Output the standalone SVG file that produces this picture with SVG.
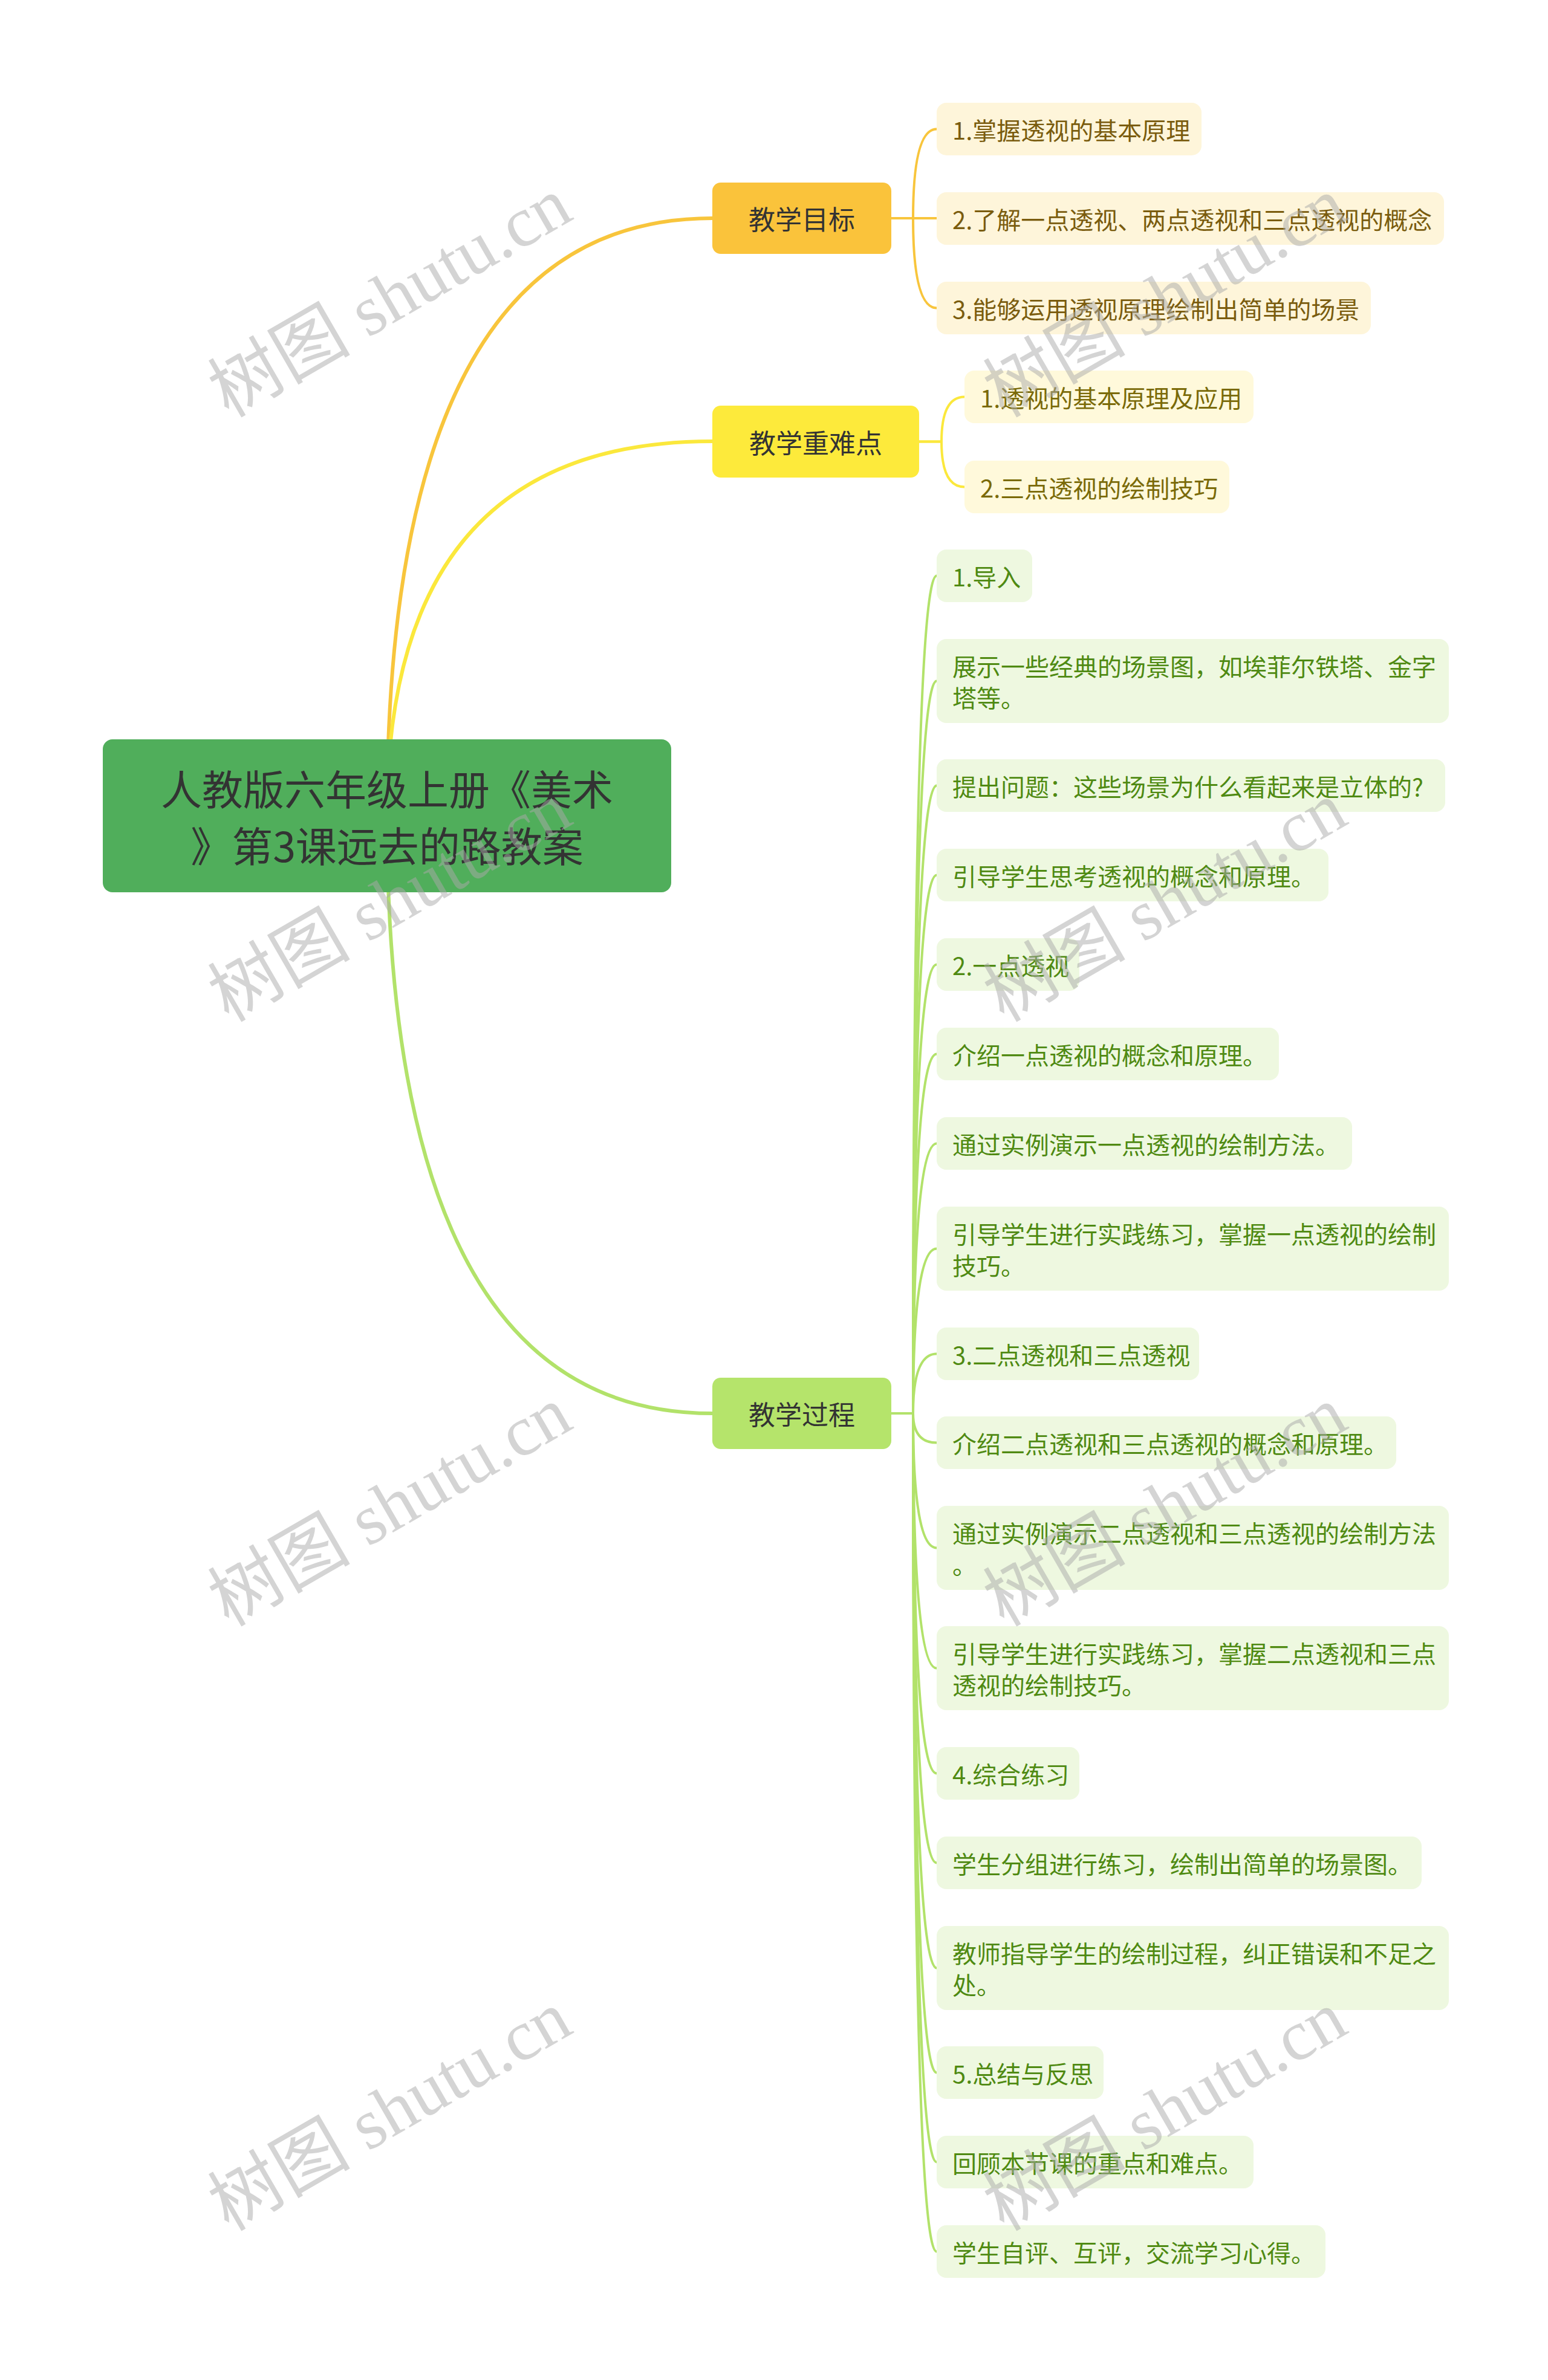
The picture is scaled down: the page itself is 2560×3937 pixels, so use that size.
<svg xmlns="http://www.w3.org/2000/svg" width="2560" height="3937" viewBox="0 0 2560 3937">
<style>
text{font-family:"Noto Sans CJK SC","Liberation Sans",sans-serif;dominant-baseline:central}
.root-t{font-size:68px;fill:#333333}
.main-t{font-size:44px;fill:#333333}
.leaf-t{font-size:40px}
.ly{fill:#FEF5DA}
.lz{fill:#FFF9DB}
.lg{fill:#EEF8E0}
.ty{fill:#7A5C0E}
.tz{fill:#7A6A08}
.tg{fill:#4F8A12}
.c1{fill:none;stroke:#F8C53C;stroke-linecap:round}
.c2{fill:none;stroke:#FBE83C;stroke-linecap:round}
.c3{fill:none;stroke:#B2E26A;stroke-linecap:round}
.wm{font-family:"Liberation Serif","Noto Sans CJK SC",serif;font-size:118px;fill:#AAAAAA;opacity:0.5;dominant-baseline:alphabetic}
</style>
<rect width="2560" height="3937" fill="#FFFFFF"/>
<g id="connectors">
  <path class="c1" stroke-width="6" d="M640 1349 Q640 361 1178 361"/>
  <path class="c2" stroke-width="6" d="M640 1349 Q640 730 1178 730"/>
  <path class="c3" stroke-width="6" d="M640 1349 Q640 2338 1178 2338"/>
  <g stroke-width="4">
    <path class="c1" d="M1474 361 L1510 361 Q1510 213.5 1549 213.5"/>
    <path class="c1" d="M1474 361 L1549 361"/>
    <path class="c1" d="M1474 361 L1510 361 Q1510 509.5 1549 509.5"/>
    <path class="c2" d="M1520 730.5 L1557 730.5 Q1557 656.5 1595 656.5"/>
    <path class="c2" d="M1520 730.5 L1557 730.5 Q1557 805.5 1595 805.5"/>
    <path class="c3" d="M1474 2338 L1510 2338 Q1510 952.5 1549 952.5"/>
    <path class="c3" d="M1474 2338 L1510 2338 Q1510 1126.5 1549 1126.5"/>
    <path class="c3" d="M1474 2338 L1510 2338 Q1510 1299.5 1549 1299.5"/>
    <path class="c3" d="M1474 2338 L1510 2338 Q1510 1447.5 1549 1447.5"/>
    <path class="c3" d="M1474 2338 L1510 2338 Q1510 1595.5 1549 1595.5"/>
    <path class="c3" d="M1474 2338 L1510 2338 Q1510 1743.5 1549 1743.5"/>
    <path class="c3" d="M1474 2338 L1510 2338 Q1510 1891.5 1549 1891.5"/>
    <path class="c3" d="M1474 2338 L1510 2338 Q1510 2065.5 1549 2065.5"/>
    <path class="c3" d="M1474 2338 L1510 2338 Q1510 2239.5 1549 2239.5"/>
    <path class="c3" d="M1474 2338 L1510 2338 Q1510 2386.5 1549 2386.5"/>
    <path class="c3" d="M1474 2338 L1510 2338 Q1510 2560.5 1549 2560.5"/>
    <path class="c3" d="M1474 2338 L1510 2338 Q1510 2759.5 1549 2759.5"/>
    <path class="c3" d="M1474 2338 L1510 2338 Q1510 2933.5 1549 2933.5"/>
    <path class="c3" d="M1474 2338 L1510 2338 Q1510 3081.5 1549 3081.5"/>
    <path class="c3" d="M1474 2338 L1510 2338 Q1510 3255.5 1549 3255.5"/>
    <path class="c3" d="M1474 2338 L1510 2338 Q1510 3428.5 1549 3428.5"/>
    <path class="c3" d="M1474 2338 L1510 2338 Q1510 3576.5 1549 3576.5"/>
    <path class="c3" d="M1474 2338 L1510 2338 Q1510 3724.5 1549 3724.5"/>
  </g>
</g>
<g id="root">
  <rect x="170" y="1223" width="940" height="253" rx="16" fill="#50AE5B"/>
  <text class="root-t" x="640" y="1302" text-anchor="middle">人教版六年级上册《美术</text>
  <text class="root-t" x="640" y="1396" text-anchor="middle">》第3课远去的路教案</text>
</g>
<g id="n-goal">
  <rect x="1178" y="302" width="296" height="118" rx="14" fill="#FAC33B"/>
  <text class="main-t" x="1326" y="361" text-anchor="middle">教学目标</text>
</g>
<g id="n-key">
  <rect x="1178" y="671" width="342" height="119" rx="14" fill="#FDEA3B"/>
  <text class="main-t" x="1349" y="730.5" text-anchor="middle">教学重难点</text>
</g>
<g id="n-process">
  <rect x="1178" y="2279" width="296" height="118" rx="14" fill="#B5E46B"/>
  <text class="main-t" x="1326" y="2338" text-anchor="middle">教学过程</text>
</g>
<g id="goal-1"><rect class="ly" x="1549" y="170" width="438" height="87" rx="16"/><text class="leaf-t ty" x="1575" y="213.5">1.掌握透视的基本原理</text></g>
<g id="goal-2"><rect class="ly" x="1549" y="318" width="839" height="87" rx="16"/><text class="leaf-t ty" x="1575" y="361.5">2.了解一点透视、两点透视和三点透视的概念</text></g>
<g id="goal-3"><rect class="ly" x="1549" y="466" width="718" height="87" rx="16"/><text class="leaf-t ty" x="1575" y="509.5">3.能够运用透视原理绘制出简单的场景</text></g>
<g id="key-1"><rect class="lz" x="1595" y="613" width="478" height="87" rx="16"/><text class="leaf-t tz" x="1621" y="656.5">1.透视的基本原理及应用</text></g>
<g id="key-2"><rect class="lz" x="1595" y="762" width="438" height="87" rx="16"/><text class="leaf-t tz" x="1621" y="805.5">2.三点透视的绘制技巧</text></g>
<g id="p-1"><rect class="lg" x="1549" y="909" width="158" height="87" rx="16"/><text class="leaf-t tg" x="1575" y="952.5">1.导入</text></g>
<g id="p-2"><rect class="lg" x="1549" y="1057" width="847" height="139" rx="16"/><text class="leaf-t tg" x="1575" y="1100.5">展示一些经典的场景图，如埃菲尔铁塔、金字</text><text class="leaf-t tg" x="1575" y="1152.5">塔等。</text></g>
<g id="p-3"><rect class="lg" x="1549" y="1256" width="841" height="87" rx="16"/><text class="leaf-t tg" x="1575" y="1299.5">提出问题：这些场景为什么看起来是立体的?</text></g>
<g id="p-4"><rect class="lg" x="1549" y="1404" width="648" height="87" rx="16"/><text class="leaf-t tg" x="1575" y="1447.5">引导学生思考透视的概念和原理。</text></g>
<g id="p-5"><rect class="lg" x="1549" y="1552" width="236" height="87" rx="16"/><text class="leaf-t tg" x="1575" y="1595.5">2.一点透视</text></g>
<g id="p-6"><rect class="lg" x="1549" y="1700" width="566" height="87" rx="16"/><text class="leaf-t tg" x="1575" y="1743.5">介绍一点透视的概念和原理。</text></g>
<g id="p-7"><rect class="lg" x="1549" y="1848" width="687" height="87" rx="16"/><text class="leaf-t tg" x="1575" y="1891.5">通过实例演示一点透视的绘制方法。</text></g>
<g id="p-8"><rect class="lg" x="1549" y="1996" width="847" height="139" rx="16"/><text class="leaf-t tg" x="1575" y="2039.5">引导学生进行实践练习，掌握一点透视的绘制</text><text class="leaf-t tg" x="1575" y="2091.5">技巧。</text></g>
<g id="p-9"><rect class="lg" x="1549" y="2196" width="434" height="87" rx="16"/><text class="leaf-t tg" x="1575" y="2239.5">3.二点透视和三点透视</text></g>
<g id="p-10"><rect class="lg" x="1549" y="2343" width="760" height="87" rx="16"/><text class="leaf-t tg" x="1575" y="2386.5">介绍二点透视和三点透视的概念和原理。</text></g>
<g id="p-11"><rect class="lg" x="1549" y="2491" width="847" height="139" rx="16"/><text class="leaf-t tg" x="1575" y="2534.5">通过实例演示二点透视和三点透视的绘制方法</text><text class="leaf-t tg" x="1575" y="2586.5">。</text></g>
<g id="p-12"><rect class="lg" x="1549" y="2690" width="847" height="139" rx="16"/><text class="leaf-t tg" x="1575" y="2733.5">引导学生进行实践练习，掌握二点透视和三点</text><text class="leaf-t tg" x="1575" y="2785.5">透视的绘制技巧。</text></g>
<g id="p-13"><rect class="lg" x="1549" y="2890" width="236" height="87" rx="16"/><text class="leaf-t tg" x="1575" y="2933.5">4.综合练习</text></g>
<g id="p-14"><rect class="lg" x="1549" y="3038" width="802" height="87" rx="16"/><text class="leaf-t tg" x="1575" y="3081.5">学生分组进行练习，绘制出简单的场景图。</text></g>
<g id="p-15"><rect class="lg" x="1549" y="3186" width="847" height="139" rx="16"/><text class="leaf-t tg" x="1575" y="3229.5">教师指导学生的绘制过程，纠正错误和不足之</text><text class="leaf-t tg" x="1575" y="3281.5">处。</text></g>
<g id="p-16"><rect class="lg" x="1549" y="3385" width="276" height="87" rx="16"/><text class="leaf-t tg" x="1575" y="3428.5">5.总结与反思</text></g>
<g id="p-17"><rect class="lg" x="1549" y="3533" width="524" height="87" rx="16"/><text class="leaf-t tg" x="1575" y="3576.5">回顾本节课的重点和难点。</text></g>
<g id="p-18"><rect class="lg" x="1549" y="3681" width="643" height="87" rx="16"/><text class="leaf-t tg" x="1575" y="3724.5">学生自评、互评，交流学习心得。</text></g>
<g id="watermarks">
  <text class="wm" transform="translate(378 692) rotate(-30)">树图 shutu.cn</text>
  <text class="wm" transform="translate(1660 692) rotate(-30)">树图 shutu.cn</text>
  <text class="wm" transform="translate(378 1692) rotate(-30)">树图 shutu.cn</text>
  <text class="wm" transform="translate(1660 1692) rotate(-30)">树图 shutu.cn</text>
  <text class="wm" transform="translate(378 2692) rotate(-30)">树图 shutu.cn</text>
  <text class="wm" transform="translate(1660 2692) rotate(-30)">树图 shutu.cn</text>
  <text class="wm" transform="translate(378 3692) rotate(-30)">树图 shutu.cn</text>
  <text class="wm" transform="translate(1660 3692) rotate(-30)">树图 shutu.cn</text>
</g>
</svg>
